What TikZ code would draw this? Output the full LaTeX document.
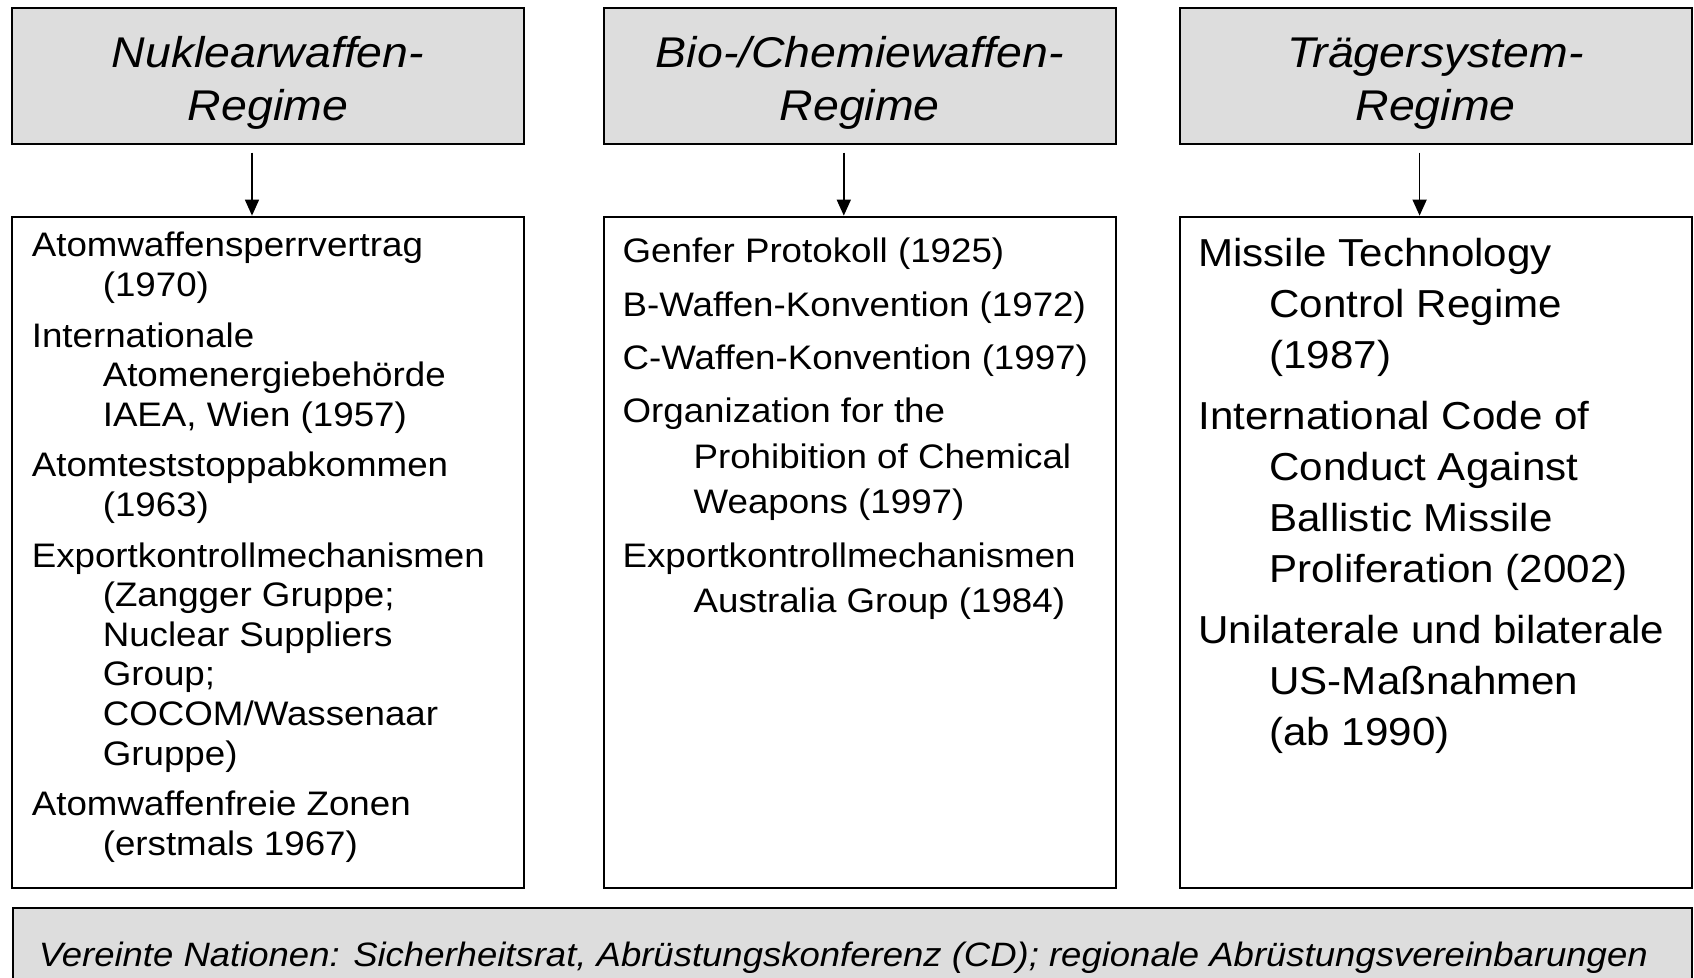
\documentclass[tikz,border=0pt]{standalone}
\usepackage{fontspec}
\setmainfont{Liberation Sans}[FakeStretch=1.08]
\usepackage{xcolor}
\usepackage{tikz}
\usetikzlibrary{positioning, arrows.meta, calc}
\definecolor{hdrgray}{RGB}{221,221,221}
\newcommand{\ein}{\hspace*{35.5pt}}
\newcommand{\topstrut}{\rule{0pt}{16pt}}
\tikzstyle{hd}=[%
      rectangle, draw=black, line width=1pt, fill=hdrgray,
      minimum width=256pt, minimum height=68pt, inner sep=0pt
]
\tikzstyle{ht}=[%
      align=center, inner sep=0pt, font=\fontsize{21.5}{26.5}\selectfont\itshape
]
\tikzstyle{bx}=[%
      rectangle, draw=black, line width=1pt, fill=none,
      minimum width=256pt, minimum height=335.6pt, inner sep=0pt
]
\tikzstyle{tx}=[%
      align=left, inner sep=0pt, anchor=north west
]
\begin{document}
\begin{tikzpicture}[-{Triangle[length=8pt,width=7pt]}, line width=0.8pt, x=0.5pt, y=0.5pt]
    \useasboundingbox (0,0) rectangle (1694,978);
    \clip (0,0) rectangle (1694,978);

    % Regime
    \node[hd] (nuk)                          at (268,902.35) {};
    \node[hd] (bio)  [right = 38.9pt of nuk] {};
    \node[hd] (trg)  [right = 30.9pt of bio] {};
    \node[ht] (nukt) at ([yshift=-3.85pt]nuk.center) {Nuklearwaffen-\\Regime};
    \node[ht] (biot) at ([yshift=-3.85pt]bio.center) {Bio-/Chemiewaffen-\\Regime};
    \node[ht] (trgt) at ([yshift=-3.85pt]trg.center) {Trägersystem-\\Regime};

    % Vertraege
    \node[bx] (nukl) [below = 35.5pt of nuk] {};
    \node[bx] (biol) [below = 35.5pt of bio] {};
    \node[bx] (trgl) [below = 35.5pt of trg] {};

    \node[tx, font=\fontsize{17}{19.8}\selectfont] (nukx) at ([shift={(20,-8.5)}]nukl.north west)
        {\topstrut Atomwaffensperrvertrag\\ \ein(1970)\\[5.5pt]
         Internationale\\ \ein Atomenergiebehörde\\ \ein IAEA, Wien (1957)\\[5.5pt]
         Atomteststoppabkommen\\ \ein(1963)\\[5.5pt]
         Exportkontrollmechanismen\\ \ein(Zangger Gruppe;\\ \ein Nuclear Suppliers\\ \ein Group;\\
         \ein COCOM/Wassenaar\\ \ein Gruppe)\\[5.5pt]
         Atomwaffenfreie Zonen\\ \ein(erstmals 1967)};
    \node[tx, font=\fontsize{17}{22.75}\selectfont] (biox) at ([shift={(19,-14.5)}]biol.north west)
        {\topstrut Genfer Protokoll (1925)\\[3.9pt]
         B-Waffen-Konvention (1972)\\[3.9pt]
         C-Waffen-Konvention (1997)\\[3.9pt]
         Organization for the\\ \ein Prohibition of Chemical\\ \ein Weapons (1997)\\[3.9pt]
         Exportkontrollmechanismen\\ \ein Australia Group (1984)};
    \node[tx, font=\fontsize{19.5}{25.5}\selectfont] (trgx) at ([shift={(19,-18.5)}]trgl.north west)
        {\topstrut Missile Technology\\ \ein Control Regime\\ \ein(1987)\\[5pt]
         International Code of\\ \ein Conduct Against\\ \ein Ballistic Missile\\ \ein Proliferation (2002)\\[5pt]
         Unilaterale und bilaterale\\ \ein US-Maßnahmen\\ \ein(ab 1990)};

    % Vereinte Nationen
    \node[hd, minimum width=839.5pt, minimum height=60pt, anchor=north west] (un) at (12,70.5) {};
    \node[tx, anchor=base west, font=\fontsize{16.9}{20}\selectfont\itshape] (unt) at (38,11)
        {Vereinte Nationen: Sicherheitsrat, Abrüstungskonferenz (CD); regionale Abrüstungsvereinbarungen};

    \draw ([xshift=-8pt,yshift=-4pt]nuk.south) -- ([xshift=-8pt]nukl.north);
    \draw ([xshift=-8pt,yshift=-4pt]bio.south) -- ([xshift=-8pt]biol.north);
    \draw ([xshift=-8pt,yshift=-4pt]trg.south) -- ([xshift=-8pt]trgl.north);
\end{tikzpicture}
\end{document}
